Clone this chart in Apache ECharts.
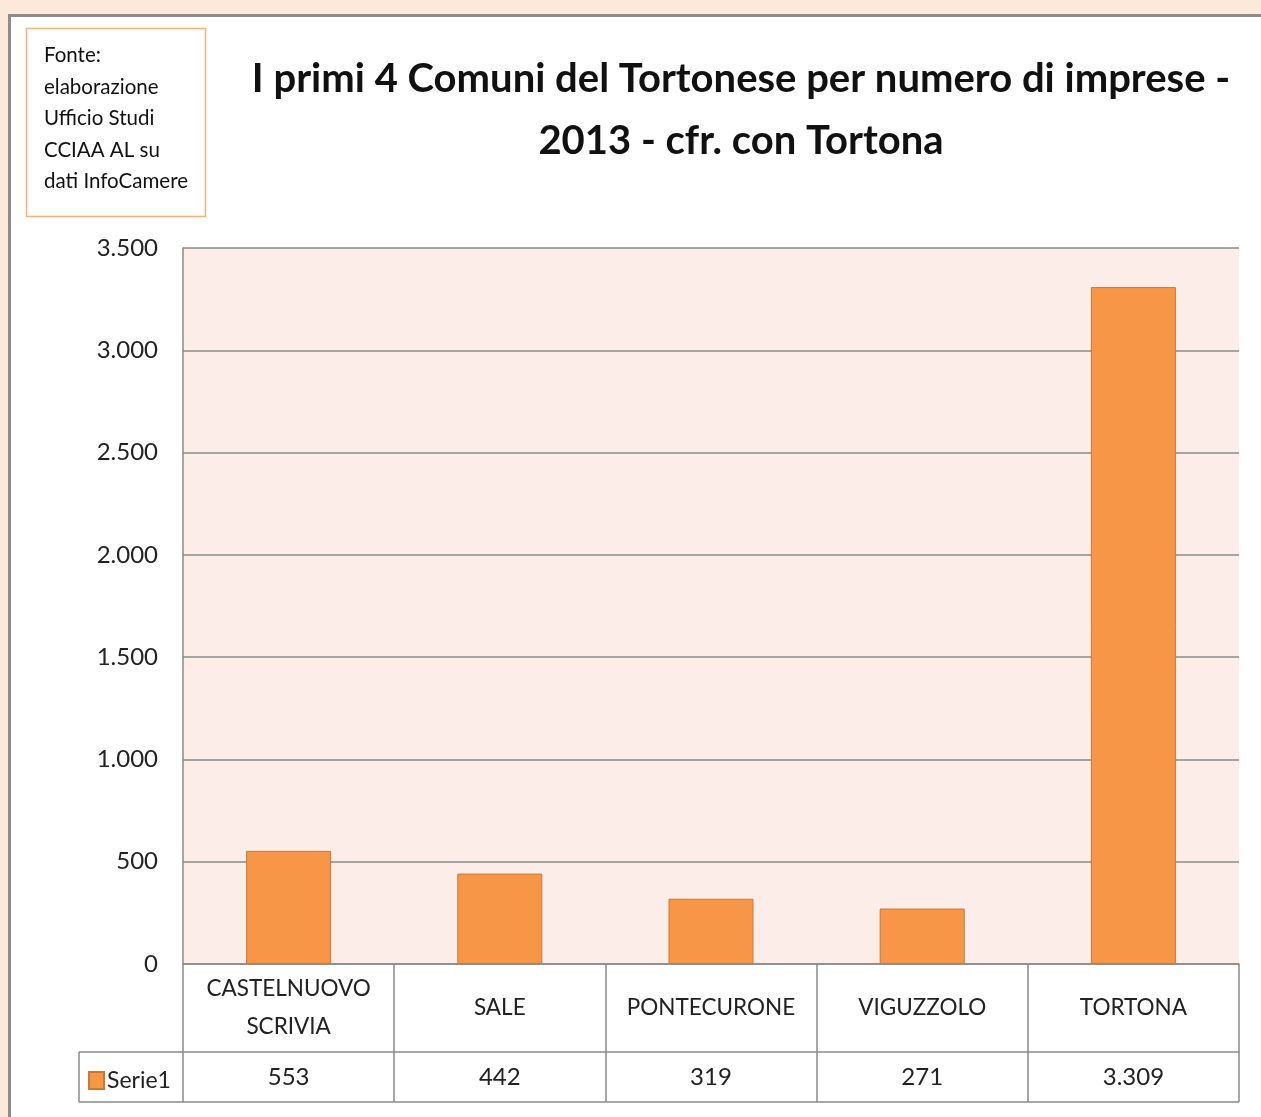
<!DOCTYPE html>
<html><head><meta charset="utf-8">
<script src="https://cdn.jsdelivr.net/npm/echarts@6/dist/echarts.min.js"></script>
<style>html,body{margin:0;padding:0;background:#fde9d9;}#c{width:1261px;height:1117px;}</style>
</head><body><div id="c"></div>
<script>
const categories = ['CASTELNUOVO\nSCRIVIA', 'SALE', 'PONTECURONE', 'VIGUZZOLO', 'TORTONA'];
const values = [553, 442, 319, 271, 3309];
const seriesName = 'Serie1';
const yTicks = { min: 0, max: 3500, interval: 500 };
const titleText = 'I primi 4 Comuni del Tortonese per numero di imprese -\n2013 - cfr. con Tortona';
const sourceText = 'Fonte:\nelaborazione\nUfficio Studi\nCCIAA AL su\ndati InfoCamere';

const FONT = 'Lato';
const fmt = v => String(v).replace(/\B(?=(\d{3})+(?!\d))/g, '.');
const GRAY = '#8a8a8a';

const chart = echarts.init(document.getElementById('c'), null, { renderer: 'canvas' });
chart.setOption({
  backgroundColor: 'transparent',
  animation: false,
  textStyle: { fontFamily: FONT },
  title: {
    text: titleText, left: 736, top: 43, textAlign: 'center',
    textStyle: { fontFamily: FONT, fontWeight: 'bold', fontSize: 40, lineHeight: 62, color: '#111' }
  },
  legend: {
    left: 88, top: 1069, padding: 0, itemWidth: 15, itemHeight: 17, itemGap: 4,
    icon: 'rect',
    textStyle: { fontFamily: FONT, fontSize: 23, color: '#222', padding: [0, 0, 0, -2] },
    data: [seriesName]
  },
  grid: {
    left: 183, right: 22, top: 248, bottom: 153,
    show: true, backgroundColor: '#fcede8', borderWidth: 0
  },
  xAxis: [{
    type: 'category', data: categories, position: 'bottom',
    axisLine: { show: true, lineStyle: { color: GRAY, width: 1.5 } },
    axisTick: { show: true, length: 138, lineStyle: { color: GRAY, width: 1.5 } },
    axisLabel: { margin: 44, verticalAlign: 'middle', fontSize: 22.5, lineHeight: 38, color: '#222', fontFamily: FONT, interval: 0 }
  }, {
    type: 'category', data: categories, position: 'bottom', offset: 88,
    axisLine: { show: true, lineStyle: { color: GRAY, width: 1.5 } },
    axisTick: { show: false },
    axisLabel: { margin: 25, verticalAlign: 'middle', fontSize: 24, color: '#222', fontFamily: FONT, interval: 0,
      formatter: (v, i) => fmt(values[i]) }
  }],
  yAxis: {
    type: 'value', min: yTicks.min, max: yTicks.max, interval: yTicks.interval,
    axisLine: { show: true, lineStyle: { color: GRAY, width: 1.5 } },
    axisTick: { show: false },
    splitLine: { lineStyle: { color: GRAY, width: 1.5 } },
    axisLabel: { margin: 25, fontSize: 24, color: '#222', fontFamily: FONT, formatter: v => fmt(v) }
  },
  series: [{
    name: seriesName, type: 'bar', data: values, barWidth: 85, xAxisIndex: 0,
    itemStyle: { color: '#f79646', borderColor: '#c9783a', borderWidth: 1 }
  }],
  graphic: [
    { type: 'rect', z: -10, shape: { x: 9.5, y: 15.5, width: 1300, height: 1200 },
      style: { fill: '#ffffff', stroke: '#8c8c8c', lineWidth: 3 } },
    { type: 'rect', shape: { x: 26.5, y: 28.5, width: 179, height: 188 },
      style: { fill: '#ffffff', stroke: '#f9b07a', lineWidth: 1.5 } },
    { type: 'text', x: 44, y: 40,
      style: { text: sourceText, font: '20.5px ' + FONT, lineHeight: 31.5, fill: '#111' } },
    { type: 'line', shape: { x1: 79, y1: 1052, x2: 183, y2: 1052 }, style: { stroke: GRAY, lineWidth: 1.5 } },
    { type: 'line', shape: { x1: 79, y1: 1102, x2: 1239, y2: 1102 }, style: { stroke: GRAY, lineWidth: 1.5 } },
    { type: 'line', shape: { x1: 79, y1: 1052, x2: 79, y2: 1102 }, style: { stroke: GRAY, lineWidth: 1.5 } }
  ]
});
</script></body></html>
